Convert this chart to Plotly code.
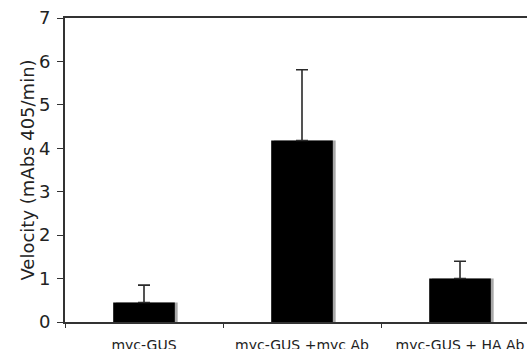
import plotly.graph_objects as go

categories = ["myc-GUS", "myc-GUS +myc Ab", "myc-GUS + HA Ab"]
velocity = [0.45, 4.18, 1.00]
error_plus = [0.40, 1.63, 0.40]
y_ticks = [0, 1, 2, 3, 4, 5, 6, 7]

BAR_W = 0.39

fig = go.Figure()
# soft drop shadow behind bars
fig.add_trace(go.Bar(
    x=categories, y=velocity, width=BAR_W, offset=-BAR_W / 2 + 0.018,
    marker=dict(color="#a8a8a8", line=dict(width=0)),
    hoverinfo="skip", showlegend=False,
))
fig.add_trace(go.Bar(
    x=categories, y=velocity, width=BAR_W, offset=-BAR_W / 2,
    marker=dict(color="#000000", line=dict(width=0)),
    error_y=dict(type="data", symmetric=False, array=error_plus,
                 arrayminus=[0] * len(error_plus),
                 color="#2a2a2a", thickness=1.6, width=6),
    showlegend=False,
))

fig.update_layout(
    width=527, height=349,
    margin=dict(l=65, r=0, t=18, b=27, autoexpand=False),
    paper_bgcolor="white", plot_bgcolor="white",
    barmode="overlay",
    font=dict(family="DejaVu Sans, Verdana, sans-serif", color="#222222"),
    xaxis=dict(
        type="category", range=[-0.5, 2.424],
        showline=True, linecolor="#333333", linewidth=2, mirror=True,
        ticks="outside", tickson="boundaries", ticklen=4, tickcolor="#333333",
        tickfont=dict(size=14), ticklabelstandoff=9,
        showgrid=False, zeroline=False, automargin=False,
    ),
    yaxis=dict(
        range=[0, 7], tickvals=y_ticks,
        showline=True, linecolor="#333333", linewidth=2,
        ticks="outside", ticklen=6, tickcolor="#333333",
        tickfont=dict(size=18), ticklabelstandoff=3,
        showgrid=False, zeroline=False, automargin=False,
        title=dict(text="Velocity (mAbs 405/min)", font=dict(size=18), standoff=0),
    ),
)

fig.write_html(
    "out.html",
    config={"displayModeBar": False},
    post_script="document.body.style.margin='0';document.body.style.overflow='hidden';",
)
